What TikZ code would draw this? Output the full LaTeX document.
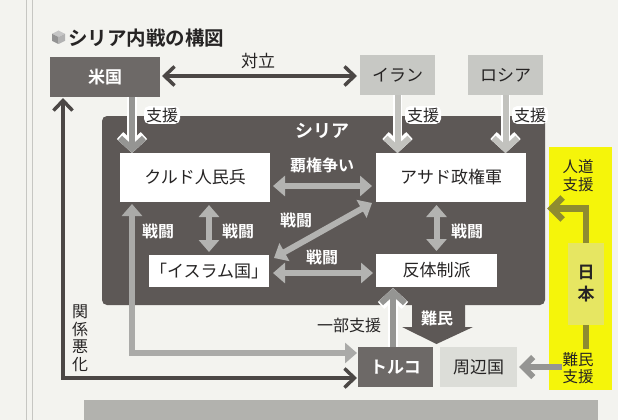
\documentclass[tikz,border=0pt]{standalone}
\usepackage{fontspec}
\setmainfont{Noto Sans CJK JP}[BoldFont={Noto Sans CJK JP Bold}]
\usetikzlibrary{arrows.meta,calc}
\definecolor{bgc}{HTML}{F3F3EF}
\definecolor{dkc}{HTML}{6D6967}
\definecolor{syc}{HTML}{5D5856}
\definecolor{ltc}{HTML}{C7C8C4}
\definecolor{nbc}{HTML}{DCDDD8}
\definecolor{txtc}{HTML}{262424}
\definecolor{arrc}{HTML}{B3B3B1}
\definecolor{sup1c}{HTML}{959593}
\definecolor{sup2c}{HTML}{C2C2BE}
\definecolor{dline}{HTML}{4B4745}
\definecolor{yelc}{HTML}{F5F50A}
\definecolor{jpc}{HTML}{E6E662}
\definecolor{olc}{HTML}{8E8C30}
\definecolor{pagec}{HTML}{C6C6C2}
\definecolor{photoc}{HTML}{B2B2AE}
\begin{document}
\begin{tikzpicture}[x=1pt,y=-1pt,
  every node/.style={inner sep=0pt, outer sep=0pt},
  dlbl/.style={font=\fontsize{16}{18}\selectfont, text=txtc},
  hlbl/.style={dlbl, fill=white, rounded corners=5pt, inner xsep=2pt, inner ysep=1.5pt},
  wlbl/.style={font=\fontsize{16}{18}\selectfont\bfseries, text=white},
  dkbox/.style={fill=dkc, text=white, font=\fontsize{17}{19}\selectfont\bfseries},
  ltbox/.style={fill=ltc, text=txtc, font=\fontsize{17}{19}\selectfont},
  nbbox/.style={fill=nbc, text=txtc, font=\fontsize{17}{19}\selectfont},
  wbox/.style={fill=white, text=txtc, font=\fontsize{17}{19}\selectfont},
  opp/.style={draw=dline, line width=3.5pt,
    {Straight Barb[length=10pt,width=19pt]}-{Straight Barb[length=10pt,width=19pt]}},
  fight/.style={draw=arrc, line width=6pt,
    {Triangle[length=12pt,width=20pt]}-{Triangle[length=12pt,width=20pt]}},
  suppa/.style={draw=#1, line width=6pt, -{Straight Barb[length=11pt,width=24pt]},
    preaction={draw=white, line width=9.5pt}},
  jparr/.style={draw=olc, line width=6.5pt, -{Straight Barb[length=11pt,width=22pt]}},
  jpline/.style={draw=olc, line width=6.5pt},
  grarr/.style={draw=sup1c, line width=6pt, -{Straight Barb[length=10pt,width=20pt]}}
]
\useasboundingbox (0,0) rectangle (618,420);
\fill[bgc] (0,0) rectangle (618,420);
\draw[pagec, line width=0.8pt] (26,0) -- (26,420);
\draw[pagec, line width=0.8pt] (32,0) -- (32,420);
\fill[photoc] (84,400) rectangle (598,420);

% title
\fill[gray!45] (58.5,30.5) -- (65,33.8) -- (58.5,37) -- (52,33.8) -- cycle;
\fill[gray!85] (52,33.8) -- (58.5,37) -- (58.5,44) -- (52,40.8) -- cycle;
\fill[gray!140!black] (58.5,37) -- (65,33.8) -- (65,40.8) -- (58.5,44) -- cycle;
\node[anchor=west, font=\fontsize{19.5}{22}\selectfont\bfseries, text=txtc] (title) at (68,38) {シリア内戦の構図};

% yellow area
\node[fill=yelc, minimum width=63pt, minimum height=243pt] (yel) at (580.5,268.5) {};

% main boxes
\node[fill=syc, rounded corners=5pt, minimum width=443pt, minimum height=189pt] (syria) at (323.5,210.5) {};
\node[dkbox, minimum width=110pt, minimum height=40pt] (us) at (105,77) {米国};
\node[ltbox, minimum width=75pt, minimum height=40pt] (iran) at (397.5,75) {イラン};
\node[ltbox, minimum width=75pt, minimum height=40pt] (russia) at (505.5,75) {ロシア};
\node[wbox, minimum width=150pt, minimum height=49pt] (kurd) at (195,177.5) {クルド人民兵};
\node[wbox, minimum width=150pt, minimum height=49pt] (assad) at (451,177.5) {アサド政権軍};
\node[wbox, minimum width=120pt, minimum height=32pt] (is) at (209,271) {「イスラム国」};
\node[wbox, minimum width=121pt, minimum height=33pt] (reb) at (436.5,270.5) {反体制派};
\node[dkbox, minimum width=75pt, minimum height=40pt] (turkey) at (395.5,367) {トルコ};
\node[nbbox, minimum width=77pt, minimum height=40pt] (nbr) at (478.5,367) {周辺国};
\node[fill=jpc, minimum width=36pt, minimum height=82pt, align=center,
  font=\fontsize{17}{22}\selectfont\bfseries, text=txtc] (japan) at (586,284) {日\\本};
\node[wlbl, font=\fontsize{18}{20}\selectfont\bfseries] (syrialbl) at (322,131) {シリア};

% refugee block arrow
\fill[syc] ($(syria.south)+(88.5,-3)$) -- ++(53,0) -- ++(0,25) -- ++(8,0)
  -- ($(syria.south)+(113,39)$) -- ($(syria.south)+(78.5,22)$) -- ++(10,0) -- cycle;
\node[wlbl] (refl) at (437,318) {難民};

% helper x positions
\coordinate (xk) at (132,0);
\coordinate (xr) at (63,0);
\coordinate (xt) at (393,0);

% confrontation
\draw[opp] ($(us.east)+(2,-1)$) -- ($(iran.west)+(-3,1)$);
\node[dlbl, font=\fontsize{17}{19}\selectfont] (oppl) at (258,61) {対立};

% relations with Turkey
\draw[opp] ($(us.south -| xr)+(0,1)$) |- ($(turkey.west)+(-1,11)$);
\node[dlbl, align=center, font=\fontsize{16}{17.5}\selectfont] (badl) at (80,338) {関\\係\\悪\\化};
\draw[fight, draw=arrc!95!black] ($(kurd.south -| xk)+(0,2)$) |- ($(turkey.west)+(-1,-14)$);

% support arrows
\draw[suppa=sup1c] (us.south -| xk) -- (kurd.north -| xk);
\draw[suppa=sup2c] (iran.south) -- (assad.north -| iran.south);
\draw[suppa=sup2c] (russia.south) -- (assad.north -| russia.south);
\draw[suppa=sup1c] (turkey.north -| xt) -- ($(reb.south -| xt)+(0,1)$);
\node[hlbl] (sup1) at (162,115) {支援};
\node[hlbl] (sup2) at (423,115) {支援};
\node[hlbl] (sup3) at (530,115) {支援};
\node[dlbl] (partl) at (349,325) {一部支援};

% fights
\draw[fight] ($(kurd.east)+(3,8.5)$) -- ($(assad.west)+(-4,8.5)$);
\draw[fight] ($(kurd.south -| is.north)+(0,3)$) -- ($(is.north)+(0,-3)$);
\draw[fight] ($(assad.south west)+(-4,1)$) -- ($(is.north east)+(5,3)$);
\draw[fight] ($(is.east)+(4,2)$) -- ($(reb.west)+(-3,2.5)$);
\draw[fight] ($(assad.south -| reb.north)+(0,3)$) -- ($(reb.north)+(0,-3)$);
\node[wlbl] (hegl) at (322,165) {覇権争い};
\node[wlbl] (f1) at (158,231) {戦闘};
\node[wlbl] (f2) at (238,231) {戦闘};
\node[wlbl] (f3) at (296,220) {戦闘};
\node[wlbl] (f4) at (322,257) {戦闘};
\node[wlbl] (f5) at (467,231) {戦闘};

% Japan
\node[dlbl, align=center, font=\fontsize{15.5}{17.5}\selectfont] (aid) at (578,175.5) {人道\\支援};
\node[dlbl, align=center, font=\fontsize{15.5}{17.5}\selectfont] (refsup) at (578,368) {難民\\支援};
\draw[jparr] (japan.north) |- ($(syria.east)+(2,-2)$);
\draw[jpline] (japan.south) -- ($(refsup.north -| japan.south)+(0,-3)$);
\draw[grarr] ($(refsup.west)+(-1,-1)$) -- ($(nbr.east)+(2,0)$);
\end{tikzpicture}
\end{document}
